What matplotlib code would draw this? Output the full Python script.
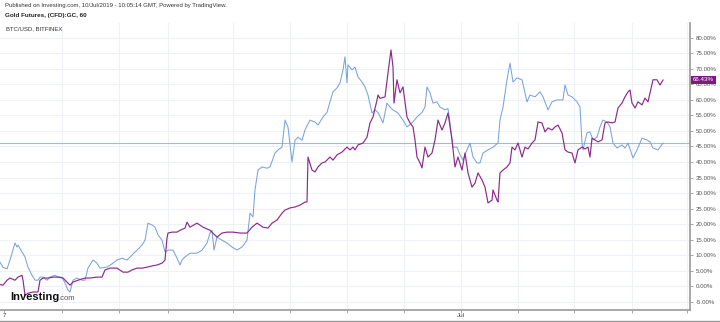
import matplotlib
matplotlib.use("Agg")
import matplotlib.pyplot as plt
from matplotlib.lines import Line2D

plt.rcParams["font.family"] = ["Liberation Sans", "DejaVu Sans"]

# ---- data (x = hourly bar index, y = % change) ----
btc_x = [0, 3, 7, 10, 15, 17, 18, 22, 25, 28, 32, 35, 38, 40, 43, 47, 50, 55, 58, 62, 65, 68, 70, 73, 77,
         82, 85, 88, 93, 97, 100, 107, 113, 117, 122, 127, 132, 137, 142, 145, 148, 152, 155, 158, 162,
         165, 168, 173, 177, 180, 182, 185, 190, 197, 202, 207, 210, 212, 214, 217, 222, 227, 232, 237,
         242, 247, 250, 253, 255, 258, 262, 267, 270, 275, 278, 282, 285, 288, 292, 295, 298, 302, 305,
         310, 315, 318, 323, 327, 330, 333, 337, 340, 343, 345, 347, 348, 352, 355, 358, 362, 365, 368,
         372, 375, 378, 383, 387, 390, 393, 398, 403, 407, 412, 417, 422, 425, 427, 430, 433, 437, 440,
         445, 448, 450, 453, 457, 460, 463, 467, 470, 473, 477, 480, 483, 488, 493, 498, 500, 503, 507,
         510, 513, 517, 522, 525, 527, 530, 535, 540, 543, 548, 552, 557, 563, 565, 568, 572, 577, 580,
         582, 583, 587, 590, 593, 597, 600, 603, 607, 610, 613, 617, 622, 625, 628, 633, 637, 642, 647,
         650, 653, 658, 660, 663]
btc_y = [7.7, 6.1, 5.5, 8.4, 13.9, 12.6, 13.2, 11.0, 9.4, 6.1, 3.5, 1.9, 1.9, 2.9, 2.9, 1.9, 2.9, 3.5, 2.9,
         2.9, 1.0, -1.3, -1.9, 1.9, 2.6, 1.9, 1.9, 5.8, 8.4, 7.4, 5.8, 6.1, 7.4, 8.4, 9.0, 8.4, 10.0,
         11.6, 13.2, 14.8, 20.3, 19.7, 19.0, 16.5, 14.8, 11.0, 11.6, 11.6, 9.0, 6.8, 8.4, 9.4, 10.6,
         10.6, 11.6, 13.9, 17.1, 18.0, 11.6, 15.8, 14.8, 13.9, 12.6, 11.6, 12.6, 14.8, 23.5, 22.3, 31.0,
         37.4, 38.4, 38.0, 38.4, 42.9, 43.9, 44.8, 53.5, 51.3, 40.0, 47.0, 48.0, 47.0, 50.3, 53.5, 52.9,
         51.9, 54.5, 56.0, 59.4, 62.6, 63.9, 65.5, 69.7, 73.9, 65.5, 71.3, 69.7, 70.6, 67.4, 65.8, 64.2,
         61.6, 55.8, 56.8, 56.0, 52.6, 59.0, 57.7, 56.8, 55.8, 53.5, 51.3, 52.6, 54.5, 56.0, 57.7, 64.2,
         62.3, 59.0, 59.4, 57.7, 56.8, 57.2, 52.6, 44.8, 44.8, 42.3, 40.6, 43.9, 46.1, 41.6, 39.7, 39.7,
         42.9, 43.9, 44.8, 46.1, 53.5, 57.7, 66.5, 71.9, 65.8, 67.1, 66.5, 62.3, 59.4, 61.6, 61.0, 62.6,
         61.0, 56.8, 59.4, 60.0, 60.0, 64.8, 61.6, 61.0, 59.4, 57.7, 46.1, 43.9, 49.4, 49.7, 47.1, 48.0,
         51.3, 53.5, 52.9, 51.3, 46.1, 44.5, 45.5, 44.5, 46.1, 41.3, 43.9, 47.7, 47.1, 46.5, 44.5, 43.9,
         44.8, 46.1]

gold_x = [0, 3, 7, 10, 15, 18, 22, 23, 25, 28, 33, 38, 40, 43, 48, 53, 58, 63, 67, 70, 73, 78, 85, 90, 97,
          102, 105, 110, 117, 123, 128, 132, 137, 142, 147, 152, 157, 162, 165, 167, 168, 172, 177, 180,
          185, 187, 190, 197, 203, 210, 217, 222, 227, 233, 240, 247, 252, 257, 263, 268, 272, 277, 282,
          285, 290, 295, 300, 305, 307, 308, 312, 315, 318, 322, 325, 330, 333, 337, 342, 347, 350, 353,
          355, 358, 363, 367, 370, 373, 377, 378, 380, 385, 388, 391, 393, 394, 397, 400, 403, 407, 410,
          413, 415, 417, 420, 422, 425, 428, 432, 435, 438, 442, 445, 448, 452, 455, 458, 462, 465, 468,
          472, 475, 478, 482, 485, 488, 492, 493, 497, 498, 500, 503, 507, 510, 512, 515, 518, 522, 525,
          528, 532, 535, 538, 542, 545, 548, 552, 555, 558, 562, 565, 568, 572, 575, 578, 582, 585, 588,
          590, 592, 595, 598, 602, 605, 608, 612, 615, 618, 622, 625, 628, 630, 632, 635, 638, 642, 645,
          648, 650, 653, 657, 660, 663]
gold_y = [0.5, 0.3, 1.9, 2.6, 1.9, 2.9, 3.5, 1.9, -2.9, -2.3, -1.9, -1.9, 1.9, 2.6, 2.6, 2.9, 2.9, 2.6,
          1.3, 0.3, 1.3, 1.9, 2.6, 2.6, 2.9, 2.9, 5.2, 5.8, 5.8, 4.5, 4.5, 5.2, 5.8, 5.8, 6.1, 6.5, 6.8,
          7.4, 8.4, 15.5, 17.1, 17.4, 17.4, 18.0, 18.7, 20.6, 19.0, 20.3, 19.0, 18.0, 15.8, 17.1, 17.4,
          17.4, 17.1, 17.1, 19.0, 20.3, 19.0, 18.7, 20.3, 21.3, 23.5, 24.5, 25.2, 25.5, 26.1, 27.1, 27.1,
          41.6, 37.4, 36.8, 38.4, 39.7, 40.0, 41.6, 40.6, 42.3, 43.2, 44.8, 43.9, 44.8, 43.9, 45.5, 46.1,
          48.0, 52.6, 54.5, 60.0, 61.6, 60.5, 61.0, 68.7, 76.1, 70.6, 59.0, 66.5, 62.3, 64.2, 54.5, 52.6,
          51.3, 47.1, 41.6, 39.7, 38.1, 44.8, 41.6, 42.9, 47.1, 53.5, 50.3, 52.6, 55.8, 47.1, 38.4, 41.6,
          37.4, 42.9, 36.5, 31.9, 33.2, 36.5, 34.2, 31.9, 26.8, 27.7, 31.0, 27.7, 27.1, 36.5, 37.4, 38.4,
          39.7, 44.8, 43.9, 46.1, 41.6, 44.8, 44.2, 46.1, 47.1, 52.9, 52.6, 49.7, 51.0, 50.3, 51.3, 51.9,
          49.4, 43.9, 43.2, 42.9, 39.7, 43.9, 44.8, 44.2, 44.8, 41.6, 47.7, 47.1, 46.5, 47.1, 52.6, 52.9,
          52.6, 52.9, 57.4, 59.0, 61.0, 62.6, 63.2, 59.0, 57.4, 59.4, 58.4, 60.6, 59.4, 62.3, 66.5, 66.5,
          64.8, 66.43]

tick_pos = [4, 62, 119, 168, 233, 290, 347, 404, 461, 518, 574, 632, 687]
tick_lab = ["7", "", "", "", "", "", "", "", "Jul", "", "", "", ""]
y_ticks = list(range(-5, 85, 5))
last_btc = 46.1
last_gold = 66.43

# ---- figure ----
W, H = 720, 322
fig = plt.figure(figsize=(W / 100, H / 100), dpi=100)
ax = fig.add_axes([0, (H - 310) / H, 690 / W, (310 - 23) / H])
ax.set_xlim(0, 690)
ax.set_ylim(-7.7, 84.8)

grid_c = "#eef1f6"
for yt in y_ticks:
    ax.axhline(yt, color=grid_c, lw=0.8, zorder=0)
for xt in tick_pos[1:]:
    ax.axvline(xt, color=grid_c, lw=0.8, zorder=0)

blue = "#79a3dc"
purple = "#8b2a8c"
ax.plot(btc_x, btc_y, color=blue, lw=0.75, zorder=3)
ax.plot(gold_x, gold_y, color=purple, lw=0.85, zorder=4)
ax.axhline(last_btc, color="#a7b8d2", lw=0.8, zorder=2)

for s in ["top", "left"]:
    ax.spines[s].set_visible(False)
ax.spines["right"].set_color("#9a9a9a")
ax.spines["right"].set_linewidth(1.2)
ax.spines["bottom"].set_color("#9a9a9a")
ax.spines["bottom"].set_linewidth(1.2)

ax.yaxis.tick_right()
ax.set_yticks(y_ticks)
ax.set_yticklabels([f"{v:.2f}%" for v in y_ticks])
ax.tick_params(axis="y", labelsize=4.4, labelcolor="#555555", color="#9a9a9a", length=2.5, width=0.6, pad=1.5)
ax.set_xticks(tick_pos)
ax.set_xticklabels(tick_lab)
ax.tick_params(axis="x", labelsize=4.6, labelcolor="#444444", color="#9a9a9a", length=2, width=0.6, pad=0.5)

# current value label
ax.annotate(f"{last_gold:.2f}%", xy=(1.0, last_gold), xycoords=("axes fraction", "data"),
            xytext=(2.2, 0), textcoords="offset points", ha="left", va="center",
            fontsize=4.4, color="white",
            bbox=dict(boxstyle="square,pad=0.3", fc="#7d1a80", ec="none"), zorder=10,
            annotation_clip=False)

# header texts
fig.text(5 / W, 1 - 5 / H, "Published on Investing.com, 10/Jul/2019 - 10:05:14 GMT, Powered by TradingView.",
         fontsize=4.3, color="#333333", va="center", ha="left")
fig.text(5 / W, 1 - 16 / H, "Gold Futures, (CFD):GC, 60", fontsize=4.5, fontweight="bold",
         color="#222222", va="center", ha="left")
fig.text(6 / W, 1 - 29 / H, "BTC/USD, BITFINEX", fontsize=4.3, color="#333333", va="center", ha="left")

# logo
fig.text(10 / W, 1 - 297 / H, "Investing", fontsize=8, fontweight="bold", color="#111111",
         va="center", ha="left")
fig.text(58 / W, 1 - 298.5 / H, ".com", fontsize=5.5, color="#555555", va="center", ha="left")

# bottom frame line
fig.add_artist(Line2D([0, 1], [1 - 320.5 / H, 1 - 320.5 / H], color="#9a9a9a", lw=1.0))

fig.savefig("out.png", dpi=100, facecolor="white")
